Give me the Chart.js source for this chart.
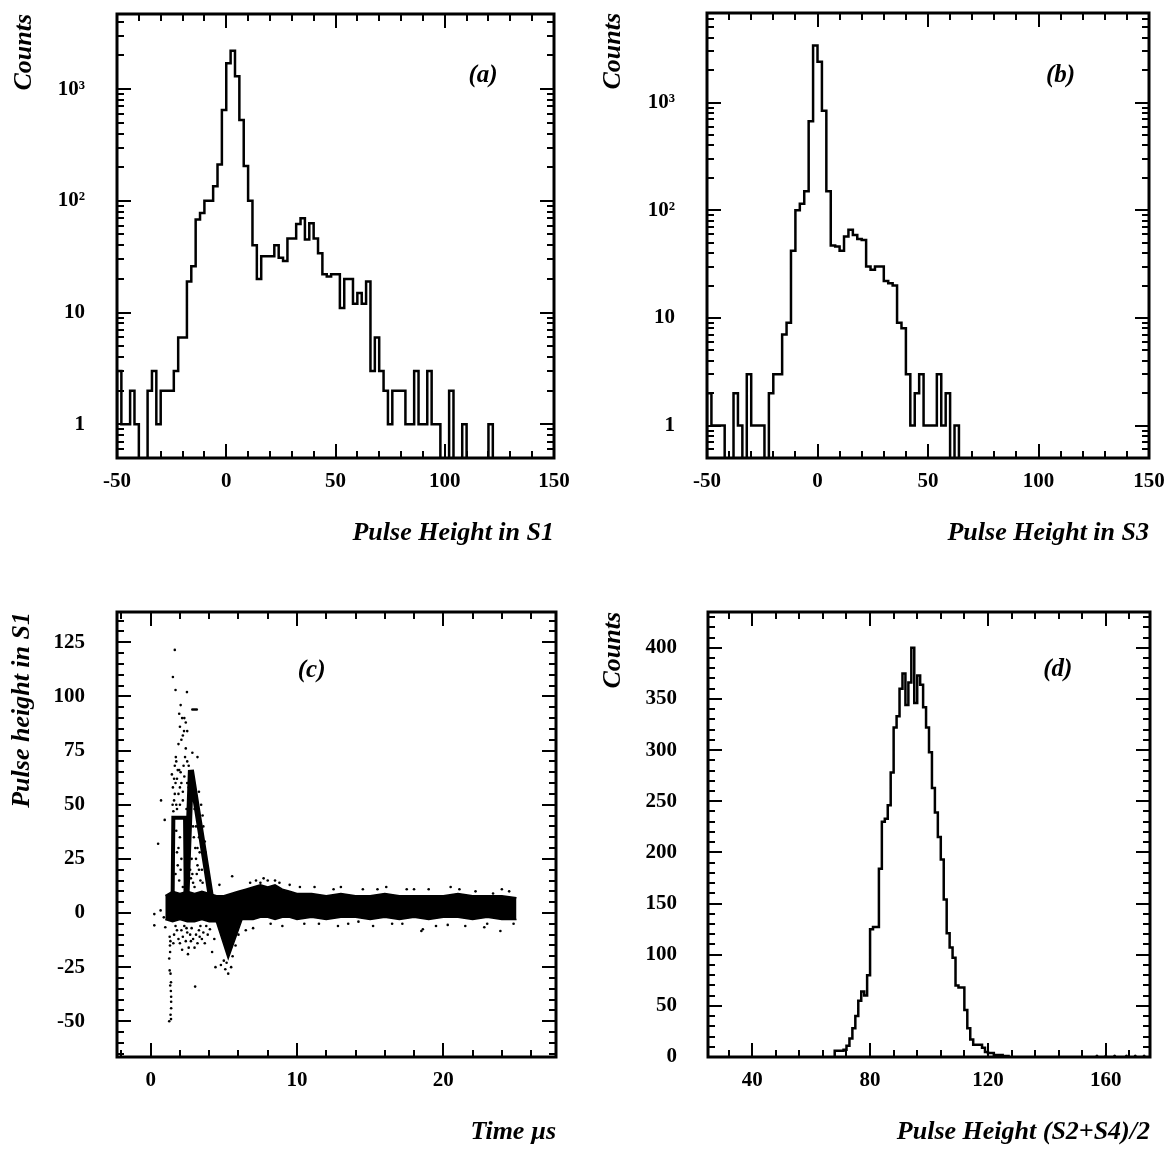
<!DOCTYPE html>
<html>
<head>
<meta charset="utf-8">
<script src="https://cdn.jsdelivr.net/npm/chart.js@4.4.1/dist/chart.umd.min.js"></script>
<style>
  html, body { margin: 0; padding: 0; background: #fff; }
  #page { position: relative; width: 1171px; height: 1149px; overflow: hidden; }
  canvas { position: absolute; }
</style>
</head>
<body>
<div id="page">
  <canvas id="chartA" width="585" height="570" style="left:0px;top:0px"></canvas>
  <canvas id="chartB" width="586" height="570" style="left:585px;top:0px"></canvas>
  <canvas id="chartC" width="585" height="579" style="left:0px;top:570px"></canvas>
  <canvas id="chartD" width="586" height="579" style="left:585px;top:570px"></canvas>
</div>
<script>
// (a) pulse height in S1, 2-unit bins starting at -50
const binStartA = -50;
const binWidthA = 2;
const countsA = [3, 1, 1, 2, 1, 0, 0, 2, 3, 1,
                 2, 2, 2, 3, 6, 6, 19, 26, 68, 78,
                 100, 100, 135, 212, 650, 1700, 2200, 1300, 530, 205,
                 100, 40, 20, 32, 32, 32, 40, 31, 29, 46,
                 46, 62, 70, 45, 63, 46, 34, 22, 21, 22,
                 22, 11, 20, 20, 12, 15, 12, 19, 3, 6,
                 3, 2, 1, 2, 2, 2, 1, 1, 3, 1,
                 1, 3, 1, 1, 0, 0, 2, 0, 0, 1,
                 0, 0, 0, 0, 0, 1];

// (b) pulse height in S3, same binning
const binStartB = -50;
const binWidthB = 2;
const countsB = [2, 1, 1, 1, 0, 0, 2, 1, 0, 3,
                 1, 1, 1, 0, 2, 3, 3, 7, 9, 42,
                 100, 115, 150, 670, 3400, 2400, 840, 150, 47, 46,
                 42, 57, 66, 59, 54, 53, 30, 28, 30, 30,
                 22, 21, 20, 9, 8, 3, 1, 2, 3, 1,
                 1, 1, 3, 1, 2, 0, 1];

// log axis labels for (a) and (b)
const logTickValues = [1, 10, 100, 1000];
const logTickText = ['1', '10', '10²', '10³'];
const histTicksX = [-50, 0, 50, 100, 150];

// (c) pulse height in S1 vs time: dense baseline band (envelope), pulse shapes, loose dots
const bandTime   = [1.0, 1.5, 2.0, 2.5, 3.0, 3.5, 4.0, 4.5, 5.0, 5.5, 6.0, 6.5, 7.0, 7.5, 8.0, 8.5, 9.0, 9.5, 10, 11, 12, 13, 14, 15, 16, 17, 18, 19, 20, 21, 22, 23, 24, 25];
const bandTop    = [8, 10, 9, 10, 9, 10, 9, 8, 8, 9, 10, 11, 12, 13, 12, 13, 11, 10, 9, 9, 8, 9, 8, 8, 9, 8, 8, 8, 8, 9, 8, 8, 8, 7];
const bandBottom = [-3, -4, -3, -4, -4, -3, -4, -4, -4, -4, -3, -3, -3, -2, -2, -3, -2, -2, -3, -2, -3, -2, -2, -3, -2, -3, -2, -3, -2, -2, -3, -2, -3, -3];
const boxPulse = [[1.5, 6], [1.55, 44], [2.35, 44], [2.4, 6]];
const triPulse = [[2.45, 8], [2.75, 66], [4.15, 6]];
const dipPulse = [[4.3, 0], [5.3, -21], [6.4, 0]];
const dotsC = [
  [1.65, 121.5], [1.52, 109], [1.7, 103], [2.48, 102], [2.05, 96], [2.85, 94], [2.95, 94], [3.05, 94], [3.15, 94],
  [2.15, 90], [2.4, 88], [2.0, 86], [2.28, 84], [2.2, 82], [1.9, 78], [2.1, 80], [2.4, 76], [2.85, 74], [3.2, 72],
  [1.72, 72], [1.85, 66], [1.95, 66], [2.05, 65], [1.45, 64], [1.52, 58], [1.65, 55], [0.71, 52], [0.96, 43],
  [0.51, 32], [1.6, 62], [1.7, 60], [2.3, 63], [2.5, 60], [2.6, 58], [3.3, 56], [3.45, 50], [3.55, 45], [3.6, 40],
  [3.7, 33], [3.75, 28], [3.8, 24], [3.9, 18], [2.0, 50], [2.2, 52], [1.8, 48], [2.45, 48], [2.6, 45], [2.55, 40],
  [2.6, 35], [2.62, 30], [2.65, 25], [2.7, 20], [2.75, 16], [2.9, 14], [3.0, 12], [2.0, 35], [1.9, 30], [2.1, 25],
  [2.05, 20], [1.95, 15], [2.2, 12], [1.75, 38], [1.8, 28], [1.85, 22], [1.7, 18], [3.2, 30], [3.3, 20], [3.4, 15],
  [3.1, 40], [3.0, 48],
  [1.5, 50], [1.55, 47], [1.6, 52], [1.75, 50], [1.9, 55], [2.0, 58], [2.1, 60], [2.2, 56], [1.8, 62], [1.65, 68],
  [1.75, 70], [2.25, 68], [2.35, 72], [2.5, 70], [2.6, 68], [2.5, 84], [2.3, 90], [1.95, 92],
  [2.9, 40], [2.95, 35], [3.05, 30], [3.1, 25], [3.2, 22], [3.3, 35], [3.35, 28], [3.5, 20], [3.55, 14], [3.6, 25],
  [3.45, 38], [2.8, 25], [2.85, 18], [3.15, 18],
  [5.57, 17], [7.72, 16], [8.5, 15], [4.7, 13], [6.8, 14], [7.2, 15], [9.5, 13], [11.2, 12], [12.5, 11], [14.5, 11],
  [16.1, 12], [17.5, 11], [19.0, 11], [21.1, 11], [23.4, 9], [24.5, 10], [0.25, -0.5], [0.25, -5.7], [0.68, 1.2],
  [1.0, -6.6], [0.9, -2],
  [7.5, 14], [8.0, 15], [8.8, 14], [10.2, 12], [13.0, 12], [15.5, 11], [18.0, 11], [20.5, 12], [22.2, 10], [24.0, 11],
  [3.8, -6], [4.05, -7.5], [4.43, -25], [5.3, -28], [5.19, -23], [5.5, -25], [5.0, -22], [3.04, -34],
  [1.27, -50], [1.39, -49], [1.39, -32], [1.34, -33.5], [1.27, -21], [1.3, -26.5], [1.4, -38.7], [1.4, -44],
  [1.3, -11], [1.32, -15], [1.33, -18], [1.35, -13], [1.36, -28], [1.38, -36], [1.4, -41], [1.36, -47],
  [1.8, -8], [2.2, -11], [2.5, -9], [2.8, -7], [3.1, -10], [3.3, -8], [3.5, -12], [2.0, -14], [2.4, -13], [2.6, -16],
  [2.9, -12], [3.2, -14], [3.6, -9], [1.6, -10], [1.9, -12], [2.3, -6], [2.7, -10], [3.4, -6],
  [1.7, -6], [2.1, -8], [2.45, -7], [2.75, -13], [3.0, -16], [3.35, -11], [3.7, -14], [3.9, -10], [2.15, -17],
  [2.55, -19], [1.55, -14], [4.2, -18], [4.35, -12], [4.8, -24], [5.1, -26], [5.6, -20], [5.8, -15], [6.0, -10],
  [23.9, -8.3], [18.5, -8.3], [18.6, -7.5], [14.2, -4], [22.8, -6.6], [9.0, -6], [11.5, -5], [16.5, -5], [20.3, -5.5],
  [7.0, -7], [6.5, -8], [12.8, -6], [24.8, -5], [21.5, -6],
  [8.2, -5], [10.5, -5], [13.5, -5], [15.2, -6], [17.2, -5], [19.5, -6], [23.0, -5]
];
const ticksCX = [0, 10, 20];
const ticksCY = [-50, -25, 0, 25, 50, 75, 100, 125];

// (d) pulse height (S2+S4)/2, 1-unit bins starting at 68
const binStartD = 68;
const binWidthD = 1;
const countsD = [6, 6, 6, 7, 11, 18, 28, 40, 55, 64,
                 60, 80, 125, 127, 127, 184, 230, 233, 246, 278,
                 322, 333, 360, 375, 344, 366, 400, 346, 373, 364,
                 342, 322, 298, 263, 239, 215, 193, 154, 121, 107,
                 97, 70, 68, 68, 46, 28, 17, 12, 12, 12,
                 9, 5, 4, 4, 2, 2, 2, 1, 1];
const tailD = [[157, 1], [160, 1], [163, 1], [167, 1], [170, 1], [173, 1]];
const ticksDX = [40, 80, 120, 160];
const ticksDY = [0, 50, 100, 150, 200, 250, 300, 350, 400];

const serif = "'Liberation Serif', 'DejaVu Serif', serif";

function range(a, b, step) {
  const out = [];
  for (let v = a; v <= b + 1e-9; v += step) out.push(+v.toFixed(4));
  return out;
}

function logMinors(min, max) {
  const out = [];
  for (let d = -1; d <= 4; d++) {
    for (let k = 2; k <= 9; k++) {
      const v = k * Math.pow(10, d);
      if (v >= min && v <= max) out.push(v);
    }
  }
  return out;
}

// step outline of a histogram; empty bins go to "floor" (below the axis on log plots)
function histo(start, width, counts, floor) {
  const pts = [{x: start, y: floor}];
  counts.forEach((c, i) => pts.push({x: start + i * width, y: c > 0 ? c : floor}));
  pts.push({x: start + counts.length * width, y: floor});
  return pts;
}

const pairs = arr => arr.map(p => ({x: p[0], y: p[1]}));

// frame, inward ticks on all four sides, panel letter
const framePlugin = {
  id: 'frame',
  afterDatasetsDraw(chart, args, opts) {
    const {ctx, chartArea: a} = chart;
    const x = chart.scales.x, y = chart.scales.y;
    ctx.save();
    ctx.strokeStyle = '#000';
    ctx.lineWidth = 2;
    ctx.beginPath();
    [[opts.xMinor, 7], [opts.xMajor, 14]].forEach(([vals, len]) => {
      vals.forEach(v => {
        const px = Math.round(x.getPixelForValue(v));
        ctx.moveTo(px, a.bottom); ctx.lineTo(px, a.bottom - len);
        ctx.moveTo(px, a.top); ctx.lineTo(px, a.top + len);
      });
    });
    [[opts.yMinor, 7], [opts.yMajor, 14]].forEach(([vals, len]) => {
      vals.forEach(v => {
        const py = Math.round(y.getPixelForValue(v));
        ctx.moveTo(a.left, py); ctx.lineTo(a.left + len, py);
        ctx.moveTo(a.right, py); ctx.lineTo(a.right - len, py);
      });
    });
    ctx.stroke();
    ctx.lineWidth = 3;
    ctx.strokeRect(a.left, a.top, a.right - a.left, a.bottom - a.top);
    ctx.fillStyle = '#000';
    ctx.font = 'italic bold 25px ' + serif;
    ctx.textAlign = 'center';
    ctx.textBaseline = 'middle';
    ctx.fillText(opts.label, x.getPixelForValue(opts.labelAt[0]), y.getPixelForValue(opts.labelAt[1]));
    ctx.restore();
  }
};

const tickFont = {family: serif, size: 21, weight: 'bold'};
const titleFont = {family: serif, size: 26, weight: 'bold', style: 'italic'};

function xAxis(min, max, ticks, title, height, padBottom) {
  return {
    type: 'linear', position: 'bottom', min: min, max: max,
    grid: {display: false, drawTicks: false}, border: {display: false},
    afterBuildTicks: s => { s.ticks = ticks.map(v => ({value: v})); },
    afterFit: s => { s.height = height; s.paddingLeft = 0; s.paddingRight = 0; },
    ticks: {padding: 11, color: '#000', font: tickFont, maxRotation: 0, autoSkip: false, callback: v => String(v)},
    title: {display: true, text: title, align: 'end', color: '#000', font: titleFont, padding: {top: 0, bottom: padBottom}}
  };
}

function yAxis(type, min, max, ticks, labels, width, padTop, tickPad) {
  return {
    type: type, position: 'left', min: min, max: max,
    grid: {display: false, drawTicks: false}, border: {display: false},
    afterBuildTicks: s => { s.ticks = ticks.map(v => ({value: v})); },
    afterFit: s => { s.width = width; s.paddingTop = 0; s.paddingBottom = 0; },
    ticks: {padding: tickPad, color: '#000', font: tickFont, autoSkip: false,
            callback: (v, i) => labels ? labels[i] : String(v)},
    title: {display: true, text: 'Counts', align: 'end', color: '#000', font: titleFont, padding: {top: padTop, bottom: 0}}
  };
}

function panel(id, size, area, scales, datasets, marks) {
  return new Chart(document.getElementById(id), {
    type: 'line',
    data: {datasets: datasets},
    options: {
      responsive: false,
      animation: false,
      layout: {padding: {top: area.top, right: size[0] - area.right, left: 0, bottom: 0}},
      plugins: {legend: {display: false}, tooltip: {enabled: false}, frame: marks},
      scales: scales
    },
    plugins: [framePlugin]
  });
}

const histLine = pts => ({data: pts, stepped: true, borderColor: '#000', borderWidth: 2.5, pointRadius: 0, fill: false});

// (a)
panel('chartA', [585, 570], {top: 14, right: 554},
  {x: xAxis(-50, 150, histTicksX, 'Pulse Height in S1', 112, 21),
   y: yAxis('logarithmic', 0.5, 4700, logTickValues, logTickText, 117, 9, 32)},
  [histLine(histo(binStartA, binWidthA, countsA, 0.1))],
  {xMajor: histTicksX, xMinor: range(-50, 150, 10), yMajor: logTickValues, yMinor: logMinors(0.5, 4700),
   label: '(a)', labelAt: [117.5, 1330]});

// (b)
panel('chartB', [586, 570], {top: 13, right: 564},
  {x: xAxis(-50, 150, histTicksX, 'Pulse Height in S3', 112, 21),
   y: yAxis('logarithmic', 0.5, 6800, logTickValues, logTickText, 122, 13, 32)},
  [histLine(histo(binStartB, binWidthB, countsB, 0.1))],
  {xMajor: histTicksX, xMinor: range(-50, 150, 10), yMajor: logTickValues, yMinor: logMinors(0.5, 6800),
   label: '(b)', labelAt: [110, 1800]});

// (c)
const yC = yAxis('linear', -66.5, 139, ticksCY, null, 117, 7, 32);
yC.title.text = 'Pulse height in S1';
panel('chartC', [585, 579], {top: 42, right: 556},
  {x: xAxis(-2.3, 27.7, ticksCX, 'Time µs', 92, 1), y: yC},
  [
    {data: bandTime.map((t, i) => ({x: t, y: bandTop[i]})), borderColor: '#000', borderWidth: 1.5, pointRadius: 0, fill: '+1', backgroundColor: '#000'},
    {data: bandTime.map((t, i) => ({x: t, y: bandBottom[i]})), borderColor: '#000', borderWidth: 1.5, pointRadius: 0, fill: false},
    {data: pairs(dipPulse), borderColor: '#000', borderWidth: 1.5, pointRadius: 0, fill: 'origin', backgroundColor: '#000'},
    {data: pairs(boxPulse), borderColor: '#000', borderWidth: 4, pointRadius: 0, fill: false},
    {data: pairs(triPulse), borderColor: '#000', borderWidth: 6, pointRadius: 0, fill: false},
    {data: pairs(dotsC), showLine: false, pointRadius: 1.3, pointBorderWidth: 0, pointBackgroundColor: '#000'}
  ],
  {xMajor: ticksCX, xMinor: range(-2, 26, 2), yMajor: ticksCY, yMinor: range(-65, 135, 5),
   label: '(c)', labelAt: [11.0, 112]});

// (d)
panel('chartD', [586, 579], {top: 42, right: 565},
  {x: xAxis(25, 175, ticksDX, 'Pulse Height (S2+S4)/2', 92, 1),
   y: yAxis('linear', 0, 435, ticksDY, null, 123, 13, 31)},
  [
    histLine(histo(binStartD, binWidthD, countsD, 0)),
    {data: pairs(tailD), showLine: false, pointRadius: 1.5, pointBorderWidth: 0, pointBackgroundColor: '#000'}
  ],
  {xMajor: ticksDX, xMinor: range(32, 168, 8), yMajor: ticksDY, yMinor: range(10, 430, 10),
   label: '(d)', labelAt: [143.7, 379]});
</script>
</body>
</html>
